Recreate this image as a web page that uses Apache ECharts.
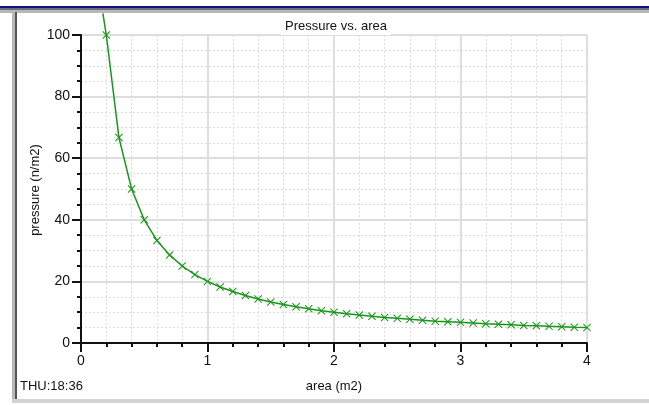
<!DOCTYPE html>
<html><head><meta charset="utf-8">
<script src="https://cdn.jsdelivr.net/npm/echarts@6/dist/echarts.min.js"></script>
<style>html,body{margin:0;padding:0;background:#fff}#c{width:649px;height:405px}</style>
</head><body><div id="c"></div>
<script>
// area (m2)
const areas = [0.2,0.3,0.4,0.5,0.6,0.7,0.8,0.9,1.0,1.1,1.2,1.3,1.4,1.5,1.6,1.7,1.8,1.9,2.0,2.1,2.2,2.3,2.4,2.5,2.6,2.7,2.8,2.9,3.0,3.1,3.2,3.3,3.4,3.5,3.6,3.7,3.8,3.9,4.0];
// pressure (n/m2)
const pressures = [100,66.7,50,40,33.3,28.6,25,22.2,20,18.2,16.7,15.4,14.3,13.3,12.5,11.8,11.1,10.5,10,9.5,9.1,8.7,8.3,8,7.7,7.4,7.1,6.9,6.7,6.5,6.25,6.1,5.9,5.7,5.6,5.4,5.3,5.1,5];
// line continues beyond the top of the plot
const lineStart = [0.173, 107];
const xTicks = [0,1,2,3,4];
const yTicks = [0,20,40,60,80,100];
const yName = 'pressure (n/m2)';

const green = '#199619';
const font = 'Arial, "Liberation Sans", sans-serif';
const pts = [{value: lineStart, symbol: 'none'}].concat(areas.map((a,i)=>[a,pressures[i]]));
const cross = 'path://M0,0.9L0.9,0L5,4.1L9.1,0L10,0.9L5.9,5L10,9.1L9.1,10L5,5.9L0.9,10L0,9.1L4.1,5Z';

const chart = echarts.init(document.getElementById('c'), null, {renderer:'canvas'});
chart.setOption({
  animation:false,
  backgroundColor:'#fff',
  title:{text:'Pressure vs. area', left:332, top:18, textAlign:'center',
    backgroundColor:'#fff', padding:[2,4],
    textStyle:{fontFamily:font, fontSize:13, fontWeight:'normal', color:'#111'}},
  grid:{left:81, right:62, top:35, bottom:62, containLabel:false},
  xAxis:{type:'value', min:0, max:4, interval:1,
    name:'area (m2)', nameLocation:'middle', nameGap:37,
    nameTextStyle:{fontFamily:font, fontSize:13, color:'#111'},
    axisLine:{show:true, onZero:false, lineStyle:{color:'#111', width:2}},
    axisTick:{show:true, length:9, lineStyle:{color:'#111', width:2}},
    minorTick:{show:true, splitNumber:5, length:4, lineStyle:{color:'#111', width:2}},
    axisLabel:{margin:11, fontFamily:font, fontSize:14, color:'#111',
      formatter:v=>xTicks.includes(v)?String(v):''},
    splitLine:{show:true, lineStyle:{color:'#dedede', width:2}},
    minorSplitLine:{show:true, lineStyle:{color:'#dcdcdc', width:1, type:[2,2]}}
  },
  yAxis:{type:'value', min:0, max:100, interval:20,
    axisLine:{show:true, lineStyle:{color:'#111', width:2}},
    axisTick:{show:true, length:9, lineStyle:{color:'#111', width:2}},
    minorTick:{show:true, splitNumber:4, length:4, lineStyle:{color:'#111', width:2}},
    axisLabel:{margin:11, fontFamily:font, fontSize:14, color:'#111',
      formatter:v=>yTicks.includes(v)?String(v):''},
    splitLine:{show:true, lineStyle:{color:'#dedede', width:2}},
    minorSplitLine:{show:true, lineStyle:{color:'#dcdcdc', width:1, type:[2,2]}}
  },
  series:[{type:'line', data:pts, clip:false,
    symbol:cross, symbolSize:8, showAllSymbol:true,
    lineStyle:{color:green, width:1.5},
    itemStyle:{color:green}
  }],
  graphic:[
    {type:'rect', shape:{x:0,y:6,width:649,height:2}, style:{fill:'#10108a'}, z:100},
    {type:'rect', shape:{x:0,y:8,width:649,height:2}, style:{fill:'#6e6e6e'}, z:100},
    {type:'rect', shape:{x:0,y:10,width:649,height:3}, style:{fill:'#b8b8b8'}, z:100},
    {type:'rect', shape:{x:12,y:10,width:3,height:392}, style:{fill:'#b8b8b8'}, z:100},
    {type:'rect', shape:{x:15,y:12,width:2,height:388}, style:{fill:'#555'}, z:100},
    {type:'rect', shape:{x:12,y:399,width:637,height:4}, style:{fill:'#d4d4d4'}, z:100},
    {type:'text', x:35, y:190, rotation:Math.PI/2,
      style:{text:yName, fontFamily:font, fontSize:13, fill:'#111', align:'center', verticalAlign:'middle'}},
    {type:'text', left:20, top:380, style:{text:'THU:18:36', fontFamily:font, fontSize:13, fill:'#111'}}
  ]
});
</script></body></html>
